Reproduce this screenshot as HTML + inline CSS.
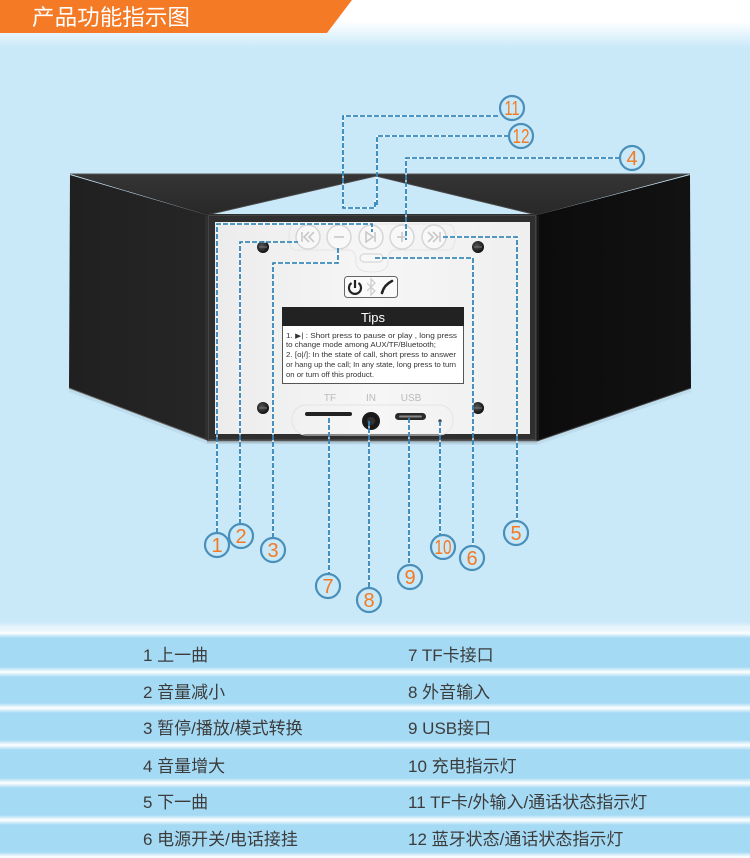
<!DOCTYPE html>
<html><head><meta charset="utf-8">
<style>
html,body{margin:0;padding:0;background:#c9e9f9;}
svg{display:block;}
.t{font-family:"Liberation Sans","Noto Sans CJK SC",sans-serif;font-size:17px;fill:#3c3c3c;}
.n{font-family:"Liberation Sans",sans-serif;font-size:20px;fill:#f47a22;text-anchor:middle;}
.tp{font-family:"Liberation Sans",sans-serif;font-size:7.2px;fill:#333;}
</style></head>
<body>
<svg width="750" height="858" viewBox="0 0 750 858" xmlns="http://www.w3.org/2000/svg">
<defs>
<linearGradient id="hdrfade" x1="0" y1="0" x2="0" y2="1">
<stop offset="0" stop-color="#ffffff"/><stop offset="0.45" stop-color="#ffffff"/><stop offset="1" stop-color="#c9e9f9"/>
</linearGradient>
<linearGradient id="sep" x1="0" y1="0" x2="0" y2="1">
<stop offset="0" stop-color="#ffffff" stop-opacity="0"/><stop offset="0.5" stop-color="#ffffff" stop-opacity="1"/><stop offset="1" stop-color="#ffffff" stop-opacity="0"/>
</linearGradient>
<linearGradient id="leftface" x1="0" y1="0" x2="1" y2="0">
<stop offset="0" stop-color="#202020"/><stop offset="1" stop-color="#262626"/>
</linearGradient>
<linearGradient id="rightface" x1="0" y1="0" x2="1" y2="0">
<stop offset="0" stop-color="#0c0c0c"/><stop offset="1" stop-color="#121212"/>
</linearGradient>
<linearGradient id="topface" x1="0" y1="0" x2="0" y2="1">
<stop offset="0" stop-color="#353535"/><stop offset="1" stop-color="#282828"/>
</linearGradient>
<linearGradient id="panel" x1="0" y1="0" x2="1" y2="0">
<stop offset="0" stop-color="#ececec"/><stop offset="0.5" stop-color="#f6f6f6"/><stop offset="1" stop-color="#efefef"/>
</linearGradient>
<radialGradient id="screw" cx="0.4" cy="0.4" r="0.6">
<stop offset="0" stop-color="#555"/><stop offset="1" stop-color="#111"/>
</radialGradient>
<linearGradient id="shadow" x1="0" y1="0" x2="0" y2="1">
<stop offset="0" stop-color="#555" stop-opacity="0.8"/><stop offset="1" stop-color="#c9e9f9" stop-opacity="0"/>
</linearGradient>
</defs>

<!-- background -->
<rect x="0" y="0" width="750" height="858" fill="#c9e9f9"/>
<rect x="0" y="0" width="750" height="48" fill="url(#hdrfade)"/>
<polygon points="0,0 352,0 327,33 0,33" fill="#f47a26"/>
<text x="32" y="25" font-family="'Liberation Sans','Noto Sans CJK SC',sans-serif" font-size="22" fill="#ffffff" textLength="158" lengthAdjust="spacingAndGlyphs">产品功能指示图</text>

<!-- table -->
<rect x="0" y="633" width="750" height="225" fill="#a5daf4"/>
<rect x="0" y="622" width="750" height="11" fill="url(#sep)" opacity="0.6"/>
<rect x="0" y="628" width="750" height="10" fill="url(#sep)"/>
<rect x="0" y="667" width="750" height="10" fill="url(#sep)"/>
<rect x="0" y="703" width="750" height="10" fill="url(#sep)"/>
<rect x="0" y="740" width="750" height="10" fill="url(#sep)"/>
<rect x="0" y="778" width="750" height="10" fill="url(#sep)"/>
<rect x="0" y="815" width="750" height="10" fill="url(#sep)"/>
<rect x="0" y="852" width="750" height="10" fill="url(#sep)"/>

<text class="t" x="143" y="661">1 上一曲</text>
<text class="t" x="143" y="698">2 音量减小</text>
<text class="t" x="143" y="734">3 暂停/播放/模式转换</text>
<text class="t" x="143" y="772">4 音量增大</text>
<text class="t" x="143" y="808">5 下一曲</text>
<text class="t" x="143" y="845">6 电源开关/电话接挂</text>
<text class="t" x="408" y="661">7 TF卡接口</text>
<text class="t" x="408" y="698">8 外音输入</text>
<text class="t" x="408" y="734">9 USB接口</text>
<text class="t" x="408" y="772">10 充电指示灯</text>
<text class="t" x="408" y="808">11 TF卡/外输入/通话状态指示灯</text>
<text class="t" x="408" y="845">12 蓝牙状态/通话状态指示灯</text>

<!-- device shadow -->
<polygon points="69,388 207,440 537,441 691,388 691,392 537,445 207,444 69,392" fill="#9fb8c6" opacity="0.25"/>

<!-- device faces -->
<polygon points="70,174 690,174 537,215 376,176 207,215" fill="url(#topface)"/>
<polygon points="70,175 207,215 207,440 69,388" fill="url(#leftface)"/>
<polygon points="537,215 690,175 691,388 537,441" fill="url(#rightface)"/>
<line x1="70" y1="174" x2="690" y2="174" stroke="#555" stroke-width="1"/>
<line x1="376" y1="176" x2="207" y2="215" stroke="#4a4a4a" stroke-width="1"/>
<line x1="376" y1="176" x2="537" y2="215" stroke="#4a4a4a" stroke-width="1"/>
<line x1="69" y1="388" x2="207" y2="440" stroke="#666" stroke-width="1"/>
<line x1="691" y1="388" x2="537" y2="441" stroke="#444" stroke-width="1"/>
<line x1="206" y1="216" x2="206" y2="440" stroke="#3a3a3a" stroke-width="1"/>
<line x1="538" y1="216" x2="538" y2="440" stroke="#2a2a2a" stroke-width="1"/>

<!-- panel frame -->
<rect x="207" y="214" width="330" height="227" fill="#2f2f2f"/>
<rect x="208.5" y="215.5" width="327" height="224" fill="none" stroke="#444" stroke-width="1"/>
<rect x="215" y="222" width="315" height="212" fill="url(#panel)"/>
<rect x="207" y="440" width="330" height="5" fill="url(#shadow)"/>

<!-- embossed button area -->
<path d="M296,224 H448 Q455,224 455,237 Q455,250 448,250 H395 Q388,250 388,262 Q388,272 372,272 Q356,272 356,262 Q356,250 349,250 H296 Q289,250 289,237 Q289,224 296,224 Z" fill="none" stroke="#e4e4e4" stroke-width="1"/>

<!-- buttons -->
<g fill="#f8f8f8" stroke="#d6d6d6" stroke-width="1.5">
<circle cx="308" cy="237" r="12"/>
<circle cx="339" cy="237" r="12"/>
<circle cx="371" cy="237" r="12"/>
<circle cx="402" cy="237" r="12"/>
<circle cx="434" cy="237" r="12"/>
</g>
<g fill="none" stroke="#c9c9c9" stroke-width="1.6">
<line x1="302" y1="232" x2="302" y2="242"/>
<polyline points="309,232 304,237 309,242"/>
<polyline points="314,232 309,237 314,242"/>
<line x1="334" y1="237" x2="344" y2="237"/>
<polygon points="366,232 373,237 366,242"/>
<line x1="375" y1="232" x2="375" y2="242"/>
<line x1="397" y1="237" x2="407" y2="237"/>
<line x1="402" y1="232" x2="402" y2="242"/>
<polyline points="428,232 433,237 428,242"/>
<polyline points="433,232 438,237 433,242"/>
<line x1="440" y1="232" x2="440" y2="242"/>
</g>
<rect x="360" y="254" width="23" height="8" rx="4" fill="#f8f8f8" stroke="#d0d0d0" stroke-width="1"/>

<!-- screws -->
<circle cx="263" cy="247" r="6" fill="url(#screw)"/>
<circle cx="478" cy="247" r="6" fill="url(#screw)"/>
<circle cx="263" cy="408" r="6" fill="url(#screw)"/>
<circle cx="478" cy="408" r="6" fill="url(#screw)"/>
<g stroke="#777" stroke-width="1">
<line x1="259" y1="247" x2="267" y2="247"/><line x1="474" y1="247" x2="482" y2="247"/>
<line x1="259" y1="408" x2="267" y2="408"/><line x1="474" y1="408" x2="482" y2="408"/>
</g>

<!-- icon box -->
<rect x="344.5" y="276.5" width="53" height="21" rx="3" fill="#fafafa" stroke="#666" stroke-width="1"/>
<path d="M351.5,283 A6,6 0 1 0 358.5,283" fill="none" stroke="#222" stroke-width="2.2"/>
<line x1="355" y1="280" x2="355" y2="288" stroke="#222" stroke-width="2.2"/>
<path d="M367,283 L375,291 L371,295 L371,279 L375,283 L367,291" fill="none" stroke="#cfcfcf" stroke-width="1.3"/>
<path d="M382,293 Q384,285 392,281" fill="none" stroke="#222" stroke-width="2.6" stroke-linecap="round"/>

<!-- tips box -->
<rect x="282.5" y="307.5" width="181" height="76" fill="#ffffff" stroke="#555" stroke-width="1"/>
<rect x="282" y="307" width="182" height="19" fill="#222"/>
<text x="373" y="322" font-family="'Liberation Sans',sans-serif" font-size="13" fill="#fff" text-anchor="middle">Tips</text>
<text class="tp" x="286" y="338" textLength="171" lengthAdjust="spacingAndGlyphs">1. ▶| : Short press to pause or play , long press</text>
<text class="tp" x="286" y="347" textLength="150" lengthAdjust="spacingAndGlyphs">to change mode  among AUX/TF/Bluetooth;</text>
<text class="tp" x="286" y="357" textLength="170" lengthAdjust="spacingAndGlyphs">2. [o|/]: In the state of call, short press to answer</text>
<text class="tp" x="286" y="367" textLength="170" lengthAdjust="spacingAndGlyphs">or hang up the call; In any state, long press to turn</text>
<text class="tp" x="286" y="377" textLength="88" lengthAdjust="spacingAndGlyphs">on or turn off this product.</text>

<!-- ports -->
<rect x="292" y="405" width="161" height="30" rx="14" fill="none" stroke="#e4e4e4" stroke-width="1"/>
<text x="330" y="401" font-family="'Liberation Sans',sans-serif" font-size="10" fill="#bbb" text-anchor="middle">TF</text>
<text x="371" y="401" font-family="'Liberation Sans',sans-serif" font-size="10" fill="#bbb" text-anchor="middle">IN</text>
<text x="411" y="401" font-family="'Liberation Sans',sans-serif" font-size="10" fill="#bbb" text-anchor="middle">USB</text>
<rect x="305" y="412" width="47" height="4" rx="2" fill="#222"/>
<circle cx="371" cy="421" r="9" fill="#1a1a1a"/>
<circle cx="371" cy="421" r="4" fill="#333"/>
<rect x="395" y="413" width="31" height="7" rx="3.5" fill="#2a2a2a"/>
<rect x="399" y="415.5" width="23" height="2" rx="1" fill="#888"/>
<circle cx="440" cy="421" r="1.6" fill="#333"/>

<!-- connectors: white underlay + blue dashes -->
<g fill="none" stroke-width="1.6">
<g stroke="#ffffff" opacity="0.8">
<path d="M217,533 V224 H372 V232"/>
<path d="M240,524 V242 H298"/>
<path d="M273,538 V263 H338 V246"/>
<path d="M620,158 H406 V240"/>
<path d="M443,237 H517 V521"/>
<path d="M375,258 H473 V546"/>
<path d="M329,418 V574"/>
<path d="M369,421 V588"/>
<path d="M409,418 V565"/>
<path d="M440,421 V535"/>
<path d="M498,116 H343 V208 H375 V200"/>
<path d="M509,136 H377 V205"/>
</g>
<g stroke="#1a78b2" stroke-dasharray="5,2">
<path d="M217,533 V224 H372 V232"/>
<path d="M240,524 V242 H298"/>
<path d="M273,538 V263 H338 V246"/>
<path d="M620,158 H406 V240"/>
<path d="M443,237 H517 V521"/>
<path d="M375,258 H473 V546"/>
<path d="M329,418 V574"/>
<path d="M369,421 V588"/>
<path d="M409,418 V565"/>
<path d="M440,421 V535"/>
<path d="M498,116 H343 V208 H375 V200"/>
<path d="M509,136 H377 V205"/>
</g>
</g>

<!-- callout circles -->
<g fill="none" stroke="#4a8fb9" stroke-width="2.2">
<circle cx="217" cy="545" r="12"/>
<circle cx="241" cy="536" r="12"/>
<circle cx="273" cy="550" r="12"/>
<circle cx="632" cy="158" r="12"/>
<circle cx="516" cy="533" r="12"/>
<circle cx="472" cy="558" r="12"/>
<circle cx="328" cy="586" r="12"/>
<circle cx="369" cy="600" r="12"/>
<circle cx="410" cy="577" r="12"/>
<circle cx="443" cy="547" r="12"/>
<circle cx="512" cy="108" r="12"/>
<circle cx="521" cy="136" r="12"/>
</g>
<text class="n" x="217" y="552">1</text>
<text class="n" x="241" y="543">2</text>
<text class="n" x="273" y="557">3</text>
<text class="n" x="632" y="165">4</text>
<text class="n" x="516" y="540">5</text>
<text class="n" x="472" y="565">6</text>
<text class="n" x="328" y="593">7</text>
<text class="n" x="369" y="607">8</text>
<text class="n" x="410" y="584">9</text>
<text class="n" x="443" y="554" textLength="17" lengthAdjust="spacingAndGlyphs">10</text>
<text class="n" x="512" y="115" textLength="15" lengthAdjust="spacingAndGlyphs">11</text>
<text class="n" x="521" y="143" textLength="17" lengthAdjust="spacingAndGlyphs">12</text>
</svg>
</body></html>
